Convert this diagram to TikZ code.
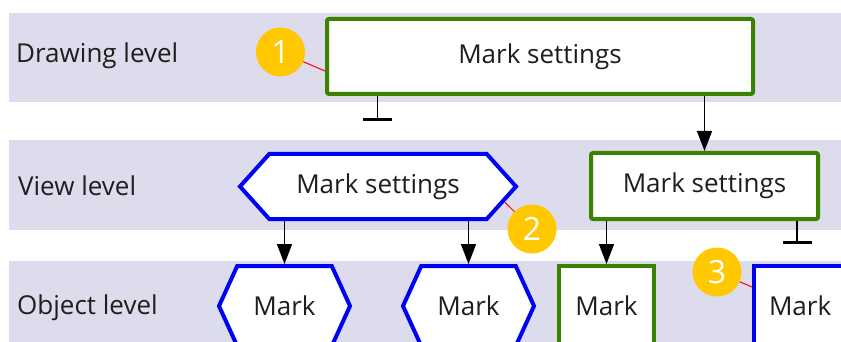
\documentclass[tikz,border=0pt]{standalone}
\usepackage{fontspec}
\setmainfont{Open Sans}
\usetikzlibrary{shapes.symbols,arrows.meta}

\definecolor{bandgray}{RGB}{220,220,236}
\definecolor{setgreen}{RGB}{58,130,0}
\definecolor{setblue}{RGB}{0,0,245}
\definecolor{tagyellow}{RGB}{255,200,0}
\definecolor{inkgray}{RGB}{30,30,30}

\tikzset{
  band/.style={fill=bandgray},
  level/.style={anchor=base west,inner sep=0pt,text=inkgray,
    font=\fontsize{26}{30}\selectfont},
  greenbox/.style={draw=setgreen,line width=4pt,fill=white,rounded corners=2pt,
    text=inkgray,font=\fontsize{26}{30}\selectfont},
  bluebox/.style={draw=setblue,line width=4pt,fill=white,
    text=inkgray,font=\fontsize{26}{30}\selectfont},
  bluehex/.style={bluebox,signal,signal to=west and east},
  tag/.style={circle,fill=tagyellow,text=white,minimum size=49pt,inner sep=0pt,
    font=\fontsize{32}{36}\selectfont},
  tagline/.style={red,line width=1pt},
  flow/.style={-{Triangle[length=20pt,width=15pt]},line width=1.5pt},
  stopline/.style={-{Bar[width=29pt,line width=3pt]},line width=1.5pt}
}

\begin{document}
\begin{tikzpicture}[x=1pt,y=-1pt]
\useasboundingbox (0,0) rectangle (841,342);
\clip (0,0) rectangle (841,342);
\fill[band] (9,13) rectangle (841,102);
\fill[band] (9,140) rectangle (841,230);
\fill[band] (9,261) rectangle (841,350);

\node[level] (ldraw) at (16,63) {Drawing level};
\node[level] (lview) at (18,195) {View level};
\node[level] (lobject) at (17,314) {Object level};

\node[greenbox,minimum width=426pt,minimum height=75pt] (drawset) at (540,56.5) {Mark settings};
\node[greenbox,minimum width=227pt,minimum height=66pt] (viewset) at (704.5,186) {Mark settings};
\node[bluehex,minimum width=276pt,minimum height=65pt,signal pointer angle=96] (viewhex) at (378,186.5) {Mark settings};

\node[bluehex,minimum width=131pt,minimum height=80pt,signal pointer angle=131] (markA) at (284.5,306) {Mark};
\node[bluehex,minimum width=131pt,minimum height=80pt,signal pointer angle=131] (markB) at (468.5,306) {Mark};
\node[greenbox,rounded corners=0pt,minimum width=95pt,minimum height=80pt] (markC) at (606.5,306) {Mark};
\node[bluebox,anchor=west,minimum height=80pt,text width=110pt,inner xsep=15pt,align=left] (markD) at (752,306) {Mark};

\coordinate (drawstop) at (377.7,121);
\coordinate (viewstop) at (797,244);

\draw[flow] (drawset.south -| viewset.north) -- (viewset.north);
\draw[stopline] (drawset.south -| drawstop) -- (drawstop);
\draw[flow] (viewhex.south -| markA.north) -- (markA.north);
\draw[flow] (viewhex.south -| markB.north) -- (markB.north);
\draw[flow] (viewset.south -| markC.north) -- (markC.north);
\draw[stopline] (viewset.south -| viewstop) -- (viewstop);

\node[tag] (tag1) at (280.5,52) {1};
\node[tag] (tag2) at (532,229) {2};
\node[tag] (tag3) at (717,272) {3};

\draw[tagline] (tag1) -- ([yshift=-14.5pt]drawset.west);
\draw[tagline] (tag2) -- (viewhex.-7);
\draw[tagline] (tag3) -- ([yshift=19pt]markD.west);
\end{tikzpicture}
\end{document}
